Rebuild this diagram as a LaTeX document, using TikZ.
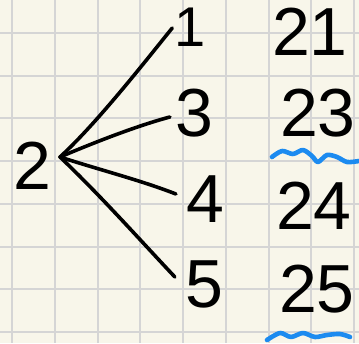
\documentclass[tikz,border=0pt]{standalone}
\usepackage{fontspec}
\setmainfont{Liberation Sans}
\definecolor{paper}{HTML}{F8F6EA}
\definecolor{gridgray}{HTML}{D5D5D5}
\definecolor{inkblue}{HTML}{1C8BF0}
\tikzset{
  gridline/.style={draw=gridgray, line width=2pt},
  digit/.style={font=\fontsize{68}{68}\selectfont, text=black, inner sep=0pt},
  smalldigit/.style={digit, font=\fontsize{56}{56}\selectfont},
  branch/.style={draw=black, line width=3.6pt, line cap=round, line join=round},
  squiggle/.style={draw=inkblue, line width=4.6pt, line cap=round, line join=round},
}

\begin{document}
\begin{tikzpicture}[x=1pt,y=-1pt]
  \useasboundingbox[fill=paper] (0,0) rectangle (359,343);
  \foreach \i in {0,...,8} \draw[gridline] ({12.3+42.7*\i},0) -- ++(0,343);
  \foreach \j in {0,...,7} \draw[gridline] (0,{33+42.7*\j}) -- ++(359,0);
  \node[digit] (two) at (32,166) {2};
  \node[smalldigit] (n1) at (190,27) {1};
  \node[digit] (n3) at (194,113) {3};
  \node[digit] (n4) at (205,199) {4};
  \node[digit] (n5) at (204,284) {5};
  \node[digit] (p21) at (310,32) {21};
  \node[digit] (p23) at (318,113) {23};
  \node[digit] (p24) at (314,206) {24};
  \node[digit] (p25) at (317,289) {25};
  \coordinate (hub) at (60,157);
  \draw[branch] (hub) .. controls (95,125) and (140,68) .. ([shift={(-2,1)}]n1.west);
  \draw[branch] (hub) .. controls (100,140) and (140,125) .. ([shift={(-5,4)}]n3.west);
  \draw[branch] (hub) .. controls (100,170) and (140,180) .. ([shift={(-10,-5)}]n4.west);
  \draw[branch] (hub) .. controls (100,195) and (140,240) .. ([shift={(-10,-7)}]n5.west);
  \draw[squiggle] plot[smooth] coordinates {(272,157) (282,151) (293,154) (303,150) (312,156) (318,162) (327,155) (337,157) (347,162) (359,161)};
  \draw[squiggle] plot[smooth] coordinates {(267,340) (280,333) (291,337) (303,333) (315,337) (327,335) (340,334) (350,337)};
\end{tikzpicture}
\end{document}
